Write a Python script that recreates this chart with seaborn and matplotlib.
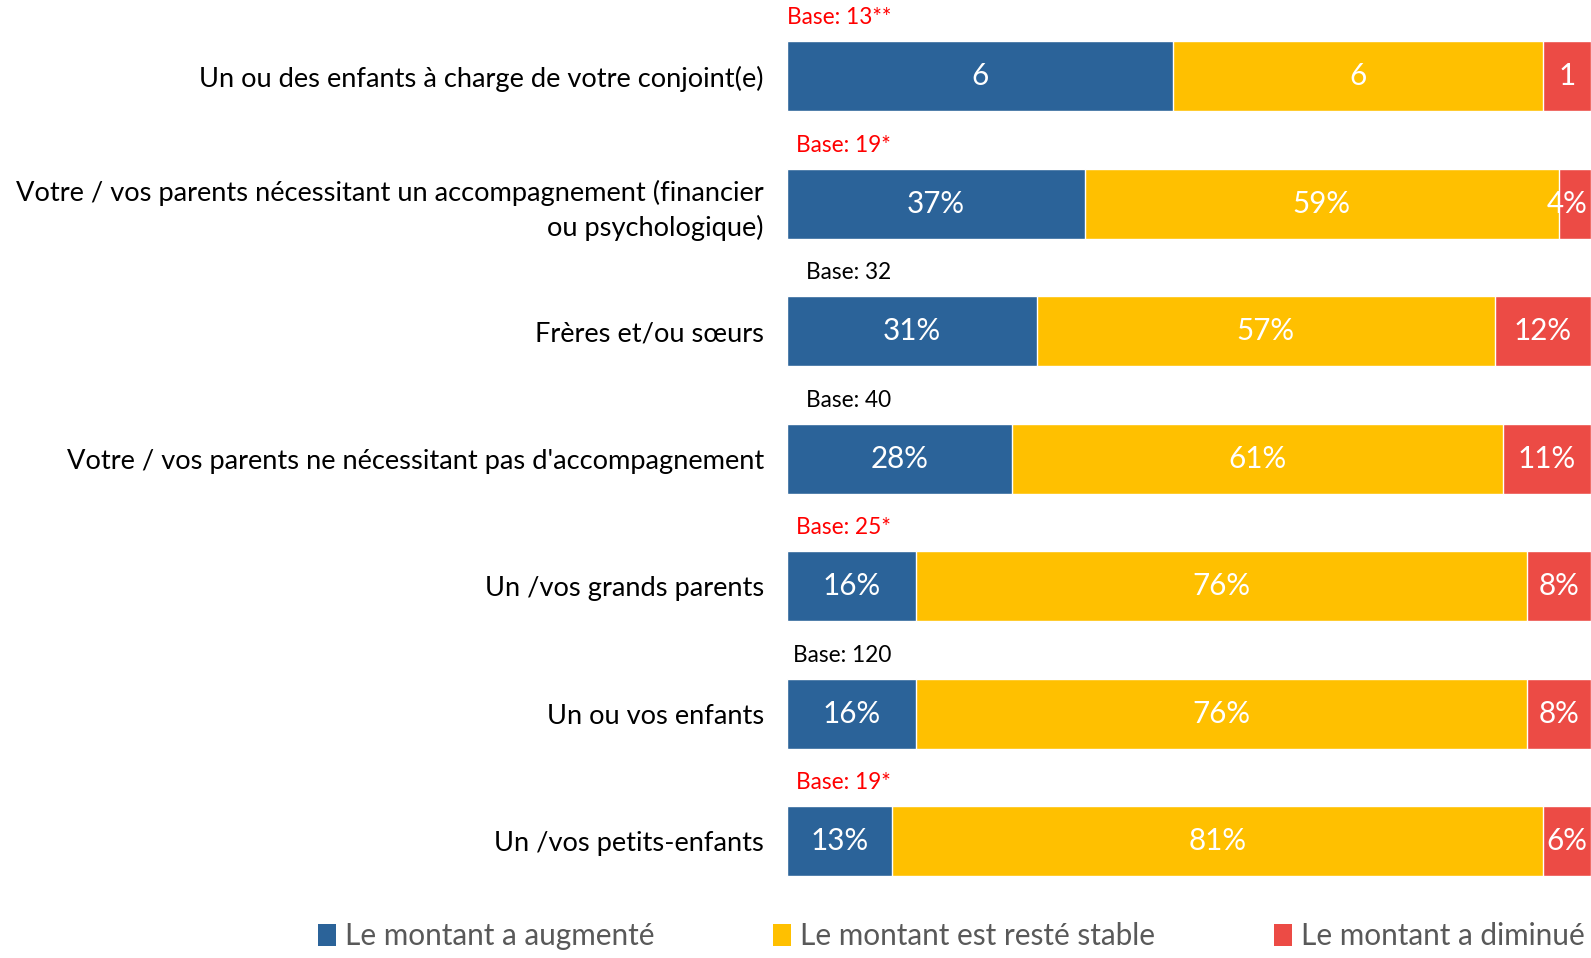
import pandas as pd
import numpy as np
import matplotlib.pyplot as plt
import seaborn as sns
from matplotlib.patches import Patch

# Données
categories = [
    "Un ou des enfants à charge de votre conjoint(e)",
    "Votre / vos parents nécessitant un accompagnement (financier\nou psychologique)",
    "Frères et/ou sœurs",
    "Votre / vos parents ne nécessitant pas d'accompagnement",
    "Un /vos grands parents",
    "Un ou vos enfants",
    "Un /vos petits-enfants",
]
augmente = [48, 37, 31, 28, 16, 16, 13]
stable = [46, 59, 57, 61, 76, 76, 81]
diminue = [6, 4, 12, 11, 8, 8, 6]
labels_augmente = ["6", "37%", "31%", "28%", "16%", "16%", "13%"]
labels_stable = ["6", "59%", "57%", "61%", "76%", "76%", "81%"]
labels_diminue = ["1", "4%", "12%", "11%", "8%", "8%", "6%"]
bases = ["Base: 13**", "Base: 19*", "Base: 32", "Base: 40", "Base: 25*", "Base: 120", "Base: 19*"]
base_rouge = [True, True, False, False, True, False, True]
series = ["Le montant a augmenté", "Le montant est resté stable", "Le montant a diminué"]

couleurs = ["#2B6399", "#FFC000", "#EC4B45"]

df = pd.DataFrame({"cat": categories, "aug": augmente, "stable": stable, "dim": diminue})
df["cum1"] = df["aug"]
df["cum2"] = df["aug"] + df["stable"]
df["cum3"] = df["cum2"] + df["dim"]

sns.set_style("white")
plt.rcParams["font.family"] = ["Lato", "DejaVu Sans"]

fig = plt.figure(figsize=(15.91, 9.58), dpi=100)
ax = fig.add_axes([0.4949, 0.0553, 0.5051, 0.9317])

# barres empilées : on dessine les cumuls du plus grand au plus petit
sns.barplot(data=df, x="cum3", y="cat", orient="h", color=couleurs[2], width=0.55, saturation=1, ax=ax)
sns.barplot(data=df, x="cum2", y="cat", orient="h", color=couleurs[1], width=0.55, saturation=1, ax=ax)
sns.barplot(data=df, x="cum1", y="cat", orient="h", color=couleurs[0], width=0.55, saturation=1, ax=ax)

ax.set_xlim(0, 100)
ax.set_ylim(6.5, -0.5)
ax.set_xlabel("")
ax.set_ylabel("")
ax.set_xticks([])
sns.despine(ax=ax, left=True, bottom=True)
ax.tick_params(axis="y", length=0, pad=17, labelsize=19.6)
for t in ax.get_yticklabels():
    t.set_color("black")
    t.set_horizontalalignment("right")
    t.set_linespacing(1.4)

# étiquettes de valeurs
for i in range(len(categories)):
    ax.text(df["aug"][i] / 2, i, labels_augmente[i], ha="center", va="center", color="white", fontsize=21.3)
    ax.text(df["aug"][i] + df["stable"][i] / 2, i, labels_stable[i], ha="center", va="center", color="white", fontsize=21.3)
    # segment trop étroit : on cale l'étiquette sur le bord droit
    if df["dim"][i] < 6:
        ax.text(99.5, i, labels_diminue[i], ha="right", va="center", color="white", fontsize=21.3)
    else:
        ax.text(df["cum2"][i] + df["dim"][i] / 2, i, labels_diminue[i], ha="center", va="center", color="white", fontsize=21.3)
    ax.text(12.9, i - 0.46, bases[i], ha="right", va="center",
            color="#FF0000" if base_rouge[i] else "black", fontsize=16.3)

handles = [Patch(facecolor=c, edgecolor="none") for c in couleurs]
leg = fig.legend(handles, series, loc="lower center", bbox_to_anchor=(0.598, -0.02), ncol=3, frameon=False,
                 fontsize=21.4, handlelength=0.6, handleheight=0.8, handletextpad=0.3, columnspacing=4.0)
for t in leg.get_texts():
    t.set_color("#595959")

plt.savefig("out.png", dpi=100)
